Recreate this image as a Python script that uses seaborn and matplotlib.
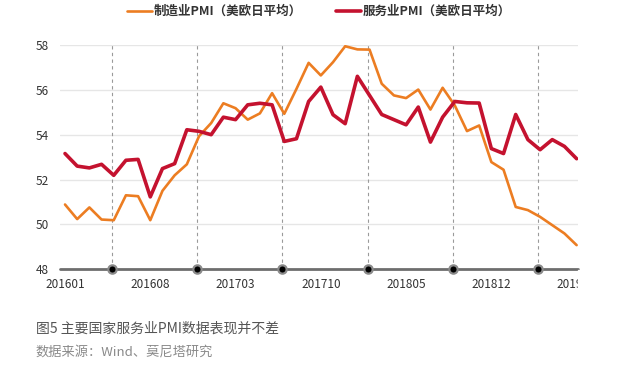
import numpy as np
import pandas as pd
import matplotlib
matplotlib.use("Agg")
import matplotlib.pyplot as plt
import seaborn as sns

sns.set_theme(style="white")
plt.rcParams['font.family'] = ['Noto Sans CJK SC', 'DejaVu Sans']

# months 201601 .. 201907
months = pd.period_range("2016-01", "2019-07", freq="M").strftime("%Y%m").tolist()

manufacturing = [50.89, 50.24, 50.76, 50.22, 50.19, 51.30, 51.26, 50.19, 51.50, 52.19,
                 52.68, 53.93, 54.52, 55.40, 55.18, 54.67, 54.95, 55.85, 54.93, 56.04,
                 57.20, 56.64, 57.23, 57.94, 57.80, 57.79, 56.27, 55.75, 55.63, 56.01,
                 55.12, 56.09, 55.30, 54.16, 54.41, 52.78, 52.44, 50.78, 50.64, 50.34,
                 49.97, 49.60, 49.08]
services = [53.16, 52.60, 52.52, 52.68, 52.19, 52.86, 52.90, 51.23, 52.49, 52.71,
            54.22, 54.15, 54.00, 54.78, 54.67, 55.33, 55.40, 55.33, 53.70, 53.82,
            55.48, 56.12, 54.89, 54.49, 56.60, 55.75, 54.90, 54.67, 54.44, 55.23,
            53.67, 54.78, 55.48, 55.42, 55.41, 53.38, 53.16, 54.90, 53.78, 53.33,
            53.78, 53.48, 52.93]

label_mfg = "制造业PMI（美欧日平均）"
label_svc = "服务业PMI（美欧日平均）"
c_mfg = "#EC7D22"
c_svc = "#C4122F"

df = pd.DataFrame({"idx": np.arange(len(months)), "month": months,
                   "mfg": manufacturing, "svc": services})

fig = plt.figure(figsize=(6.2, 3.68), dpi=100)
ax = fig.add_axes([0.097, 0.268, 0.835, 0.61])

# grid
for v in [50, 52, 54, 56, 58]:
    ax.axhline(v, color="#E6E6E6", lw=1.0, zorder=0)

# dashed separators with dots on the axis
sep = np.arange(3.85, 42, 7)
for s in sep:
    ax.axvline(s, color="#9A9A9A", lw=0.8, ls=(0, (3, 3)), zorder=1)

sns.lineplot(data=df, x="idx", y="mfg", color=c_mfg, lw=1.9, ax=ax, label=label_mfg, zorder=3)
sns.lineplot(data=df, x="idx", y="svc", color=c_svc, lw=2.6, ax=ax, label=label_svc, zorder=4)

ax.axhline(48, color="#6E6E6E", lw=2.0, zorder=5, clip_on=False)
ax.plot(sep, [48] * len(sep), "o", color="black", ms=6, mec="#8A8A8A", mew=1.6,
        zorder=6, clip_on=False)

ax.set_xlim(-0.4, 42.1)
ax.set_ylim(48, 58)
ax.set_yticks([48, 50, 52, 54, 56, 58])
ax.set_xticks(df["idx"][::7])
ax.set_xticklabels(df["month"][::7])
ax.set_xlabel("")
ax.set_ylabel("")
ax.tick_params(axis="both", length=0, labelsize=8.5, colors="#333333")
ax.tick_params(axis="y", pad=8)
ax.tick_params(axis="x", pad=6)
for sp in ax.spines.values():
    sp.set_visible(False)

leg = ax.legend(loc="lower center", bbox_to_anchor=(0.5, 1.07), ncol=2, frameon=False,
                prop={"size": 9, "weight": "bold"}, handlelength=2.0, handletextpad=0.1,
                columnspacing=2.8)
for t in leg.get_texts():
    t.set_color("#333333")

# original picture is cropped on the right
fig.patches.append(plt.Rectangle((0.932, 0.0), 0.07, 0.265, transform=fig.transFigure,
                                 color="white", zorder=10))

fig.text(0.058, 0.095, "图5 主要国家服务业PMI数据表现并不差", fontsize=10, color="#555555")
fig.text(0.058, 0.03, "数据来源：Wind、莫尼塔研究", fontsize=9.5, color="#8A8A8A")

fig.savefig("out.png", dpi=100, facecolor="white")
